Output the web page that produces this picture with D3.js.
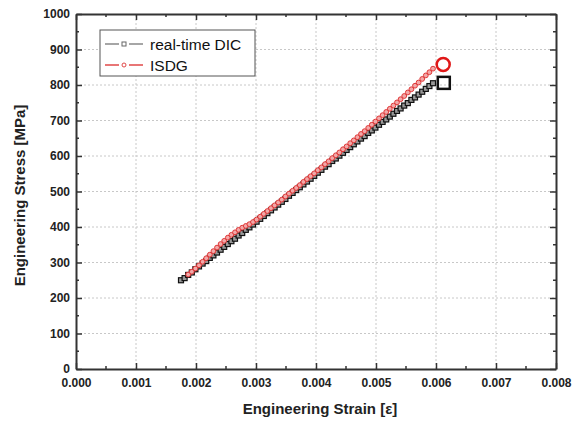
<!DOCTYPE html>
<html>
<head>
<meta charset="utf-8">
<script src="https://cdn.jsdelivr.net/npm/d3@7"></script>
<style>
  body { margin: 0; background: #fff; }
  text { font-family: "Liberation Sans", Arial, sans-serif; }
</style>
</head>
<body>
<script>
// real-time DIC (strain, stress MPa)
var dicStrain = [0.00175, 0.00181, 0.00187, 0.00193, 0.00199, 0.00205, 0.00211, 0.00217, 0.00223, 0.00229,
    0.00235, 0.00241, 0.00247, 0.00253, 0.00259, 0.00265, 0.00271, 0.00277, 0.00283, 0.00289,
    0.00295, 0.00301, 0.00307, 0.00313, 0.00319, 0.00325, 0.00331, 0.00337, 0.00343, 0.00349,
    0.00355, 0.00361, 0.00367, 0.00373, 0.00379, 0.00385, 0.00391, 0.00397, 0.00403, 0.00409,
    0.00415, 0.00421, 0.00427, 0.00433, 0.00439, 0.00445, 0.00451, 0.00457, 0.00463, 0.00469,
    0.00475, 0.00481, 0.00487, 0.00493, 0.00499, 0.00505, 0.00511, 0.00517, 0.00523, 0.00529,
    0.00535, 0.00541, 0.00547, 0.00553, 0.00559, 0.00565, 0.00571, 0.00577, 0.00583, 0.00589, 0.00595];
var dicStress = [250, 256, 265, 272, 281, 289, 297, 304, 313, 320,
    328, 336, 344, 352, 360, 367, 376, 383, 392, 399,
    407, 415, 423, 431, 439, 447, 455, 463, 471, 479,
    488, 496, 504, 512, 520, 528, 536, 544, 553, 561,
    570, 577, 586, 593, 601, 609, 617, 625, 633, 641,
    649, 656, 665, 672, 680, 688, 696, 703, 711, 719,
    727, 734, 742, 749, 758, 765, 773, 781, 789, 797, 805];

// ISDG
var isdgStrain = [0.00187, 0.00193, 0.00199, 0.00205, 0.00211, 0.00217, 0.00223, 0.00229, 0.00235, 0.00241,
    0.00247, 0.00253, 0.00259, 0.00265, 0.00271, 0.00277, 0.00283, 0.00289, 0.00295, 0.00301,
    0.00307, 0.00313, 0.00319, 0.00325, 0.00331, 0.00337, 0.00343, 0.00349, 0.00355, 0.00361,
    0.00367, 0.00373, 0.00379, 0.00385, 0.00391, 0.00397, 0.00403, 0.00409, 0.00415, 0.00421,
    0.00427, 0.00433, 0.00439, 0.00445, 0.00451, 0.00457, 0.00463, 0.00469, 0.00475, 0.00481,
    0.00487, 0.00493, 0.00499, 0.00505, 0.00511, 0.00517, 0.00523, 0.00529, 0.00535, 0.00541,
    0.00547, 0.00553, 0.00559, 0.00565, 0.00571, 0.00577, 0.00583, 0.00589, 0.00595];
var isdgStress = [266, 274, 283, 292, 302, 312, 322, 332, 342, 352,
    361, 370, 378, 385, 392, 398, 403, 408, 414, 421,
    429, 437, 445, 453, 461, 469, 477, 486, 494, 502,
    510, 518, 527, 535, 543, 551, 560, 568, 577, 585,
    594, 602, 610, 619, 627, 636, 644, 653, 662, 670,
    679, 688, 697, 706, 715, 724, 733, 742, 751, 760,
    769, 779, 788, 798, 807, 817, 827, 836, 846];

// failure points
var failDIC = [0.00613, 806];
var failISDG = [0.00612, 858];

var xTicks = [0, 0.001, 0.002, 0.003, 0.004, 0.005, 0.006, 0.007, 0.008];
var yTicks = [0, 100, 200, 300, 400, 500, 600, 700, 800, 900, 1000];
var legendNames = ["real-time DIC", "ISDG"];

var width = 584, height = 426;
var margin = {left: 76, right: 28, top: 14, bottom: 57};

var svg = d3.select("body").append("svg")
    .attr("width", width)
    .attr("height", height);

var x = d3.scaleLinear().domain([0, 0.008]).range([margin.left, width - margin.right]);
var y = d3.scaleLinear().domain([0, 1000]).range([height - margin.bottom, margin.top]);

// grid
svg.append("g").selectAll("line")
    .data(xTicks.slice(1, -1))
    .enter().append("line")
    .attr("x1", d => x(d)).attr("x2", d => x(d))
    .attr("y1", y(0)).attr("y2", y(1000))
    .attr("stroke", "#c8c8c8").attr("stroke-dasharray", "2,2");
svg.append("g").selectAll("line")
    .data(yTicks.slice(1, -1))
    .enter().append("line")
    .attr("y1", d => y(d)).attr("y2", d => y(d))
    .attr("x1", x(0)).attr("x2", x(0.008))
    .attr("stroke", "#c8c8c8").attr("stroke-dasharray", "2,2");

// axes, ticks inward
var fmt = d3.format(".3f");
var xMinor = d3.range(0.0005, 0.008, 0.001);
var yMinor = d3.range(50, 1000, 100);

function styleAxis(g) {
    g.select(".domain").attr("stroke", "#333").attr("stroke-width", 2);
    g.selectAll(".tick line").attr("stroke", "#333").attr("stroke-width", 1.5);
    g.selectAll("text").attr("font-weight", "bold").attr("font-size", 12).attr("fill", "#222");
}

var xb = svg.append("g").attr("transform", "translate(0," + y(0) + ")")
    .call(d3.axisBottom(x).tickValues(xTicks).tickFormat(fmt).tickSizeInner(-6).tickSizeOuter(0).tickPadding(9));
styleAxis(xb);
var xt = svg.append("g").attr("transform", "translate(0," + y(1000) + ")")
    .call(d3.axisTop(x).tickValues(xTicks).tickFormat("").tickSizeInner(-6).tickSizeOuter(0));
styleAxis(xt);
var yl = svg.append("g").attr("transform", "translate(" + x(0) + ",0)")
    .call(d3.axisLeft(y).tickValues(yTicks).tickFormat(d3.format("d")).tickSizeInner(-6).tickSizeOuter(0).tickPadding(6));
styleAxis(yl);
var yr = svg.append("g").attr("transform", "translate(" + x(0.008) + ",0)")
    .call(d3.axisRight(y).tickValues(yTicks).tickFormat("").tickSizeInner(-6).tickSizeOuter(0));
styleAxis(yr);

// minor ticks
svg.append("g").selectAll("line").data(xMinor).enter().append("line")
    .attr("x1", d => x(d)).attr("x2", d => x(d))
    .attr("y1", y(0)).attr("y2", y(0) - 3).attr("stroke", "#333").attr("stroke-width", 1.5);
svg.append("g").selectAll("line").data(xMinor).enter().append("line")
    .attr("x1", d => x(d)).attr("x2", d => x(d))
    .attr("y1", y(1000)).attr("y2", y(1000) + 3).attr("stroke", "#333").attr("stroke-width", 1.5);
svg.append("g").selectAll("line").data(yMinor).enter().append("line")
    .attr("y1", d => y(d)).attr("y2", d => y(d))
    .attr("x1", x(0)).attr("x2", x(0) + 3).attr("stroke", "#333").attr("stroke-width", 1.5);
svg.append("g").selectAll("line").data(yMinor).enter().append("line")
    .attr("y1", d => y(d)).attr("y2", d => y(d))
    .attr("x1", x(0.008)).attr("x2", x(0.008) - 3).attr("stroke", "#333").attr("stroke-width", 1.5);

// axis titles
svg.append("text")
    .attr("x", (x(0) + x(0.008)) / 2 + 4).attr("y", 414)
    .attr("text-anchor", "middle").attr("font-weight", "bold").attr("font-size", 15).attr("fill", "#222")
    .text("Engineering Strain [ε]");
svg.append("text")
    .attr("transform", "translate(25," + ((y(0) + y(1000)) / 2 + 4) + ") rotate(-90)")
    .attr("text-anchor", "middle").attr("font-weight", "bold").attr("font-size", 15).attr("fill", "#222")
    .text("Engineering Stress [MPa]");

// series
var dic = dicStrain.map((d, i) => [d, dicStress[i]]);
var isdg = isdgStrain.map((d, i) => [d, isdgStress[i]]);
var line = d3.line().x(d => x(d[0])).y(d => y(d[1]));

svg.append("path").datum(dic).attr("d", line)
    .attr("fill", "none").attr("stroke", "#555").attr("stroke-width", 1.5);
svg.append("g").selectAll("rect").data(dic).enter().append("rect")
    .attr("x", d => x(d[0]) - 2.5).attr("y", d => y(d[1]) - 2.5)
    .attr("width", 5).attr("height", 5)
    .attr("fill", "#999").attr("stroke", "#111").attr("stroke-width", 1.2);

svg.append("path").datum(isdg).attr("d", line)
    .attr("fill", "none").attr("stroke", "#e04848").attr("stroke-width", 1.5);
svg.append("g").selectAll("circle").data(isdg).enter().append("circle")
    .attr("cx", d => x(d[0])).attr("cy", d => y(d[1])).attr("r", 2.4)
    .attr("fill", "#f2a8a8").attr("stroke", "#e03838").attr("stroke-width", 1);

// failure markers
svg.append("rect")
    .attr("x", x(failDIC[0]) - 6).attr("y", y(failDIC[1]) - 6)
    .attr("width", 12).attr("height", 12)
    .attr("fill", "none").attr("stroke", "#111").attr("stroke-width", 2.5);
svg.append("circle")
    .attr("cx", x(failISDG[0])).attr("cy", y(failISDG[1])).attr("r", 6.5)
    .attr("fill", "none").attr("stroke", "#e01818").attr("stroke-width", 2.5);

// legend
var lg = svg.append("g").attr("transform", "translate(100,30)");
lg.append("rect").attr("width", 155).attr("height", 46)
    .attr("fill", "#fff").attr("stroke", "#555").attr("stroke-width", 1);
var legColors = ["#888", "#e04848"];
legendNames.forEach(function (name, i) {
    var yy = 14 + i * 21;
    lg.append("line").attr("x1", 5).attr("x2", 19).attr("y1", yy).attr("y2", yy)
        .attr("stroke", legColors[i]).attr("stroke-width", 1.5);
    lg.append("line").attr("x1", 29).attr("x2", 43).attr("y1", yy).attr("y2", yy)
        .attr("stroke", legColors[i]).attr("stroke-width", 1.5);
    if (i == 0) {
        lg.append("rect").attr("x", 22).attr("y", yy - 2).attr("width", 4).attr("height", 4)
            .attr("fill", "none").attr("stroke", "#666").attr("stroke-width", 1);
    } else {
        lg.append("circle").attr("cx", 24).attr("cy", yy).attr("r", 2)
            .attr("fill", "none").attr("stroke", legColors[i]).attr("stroke-width", 1);
    }
    lg.append("text").attr("x", 50).attr("y", yy + 5.5)
        .attr("font-size", 15.5).attr("fill", "#111")
        .text(name);
});
</script>
</body>
</html>
